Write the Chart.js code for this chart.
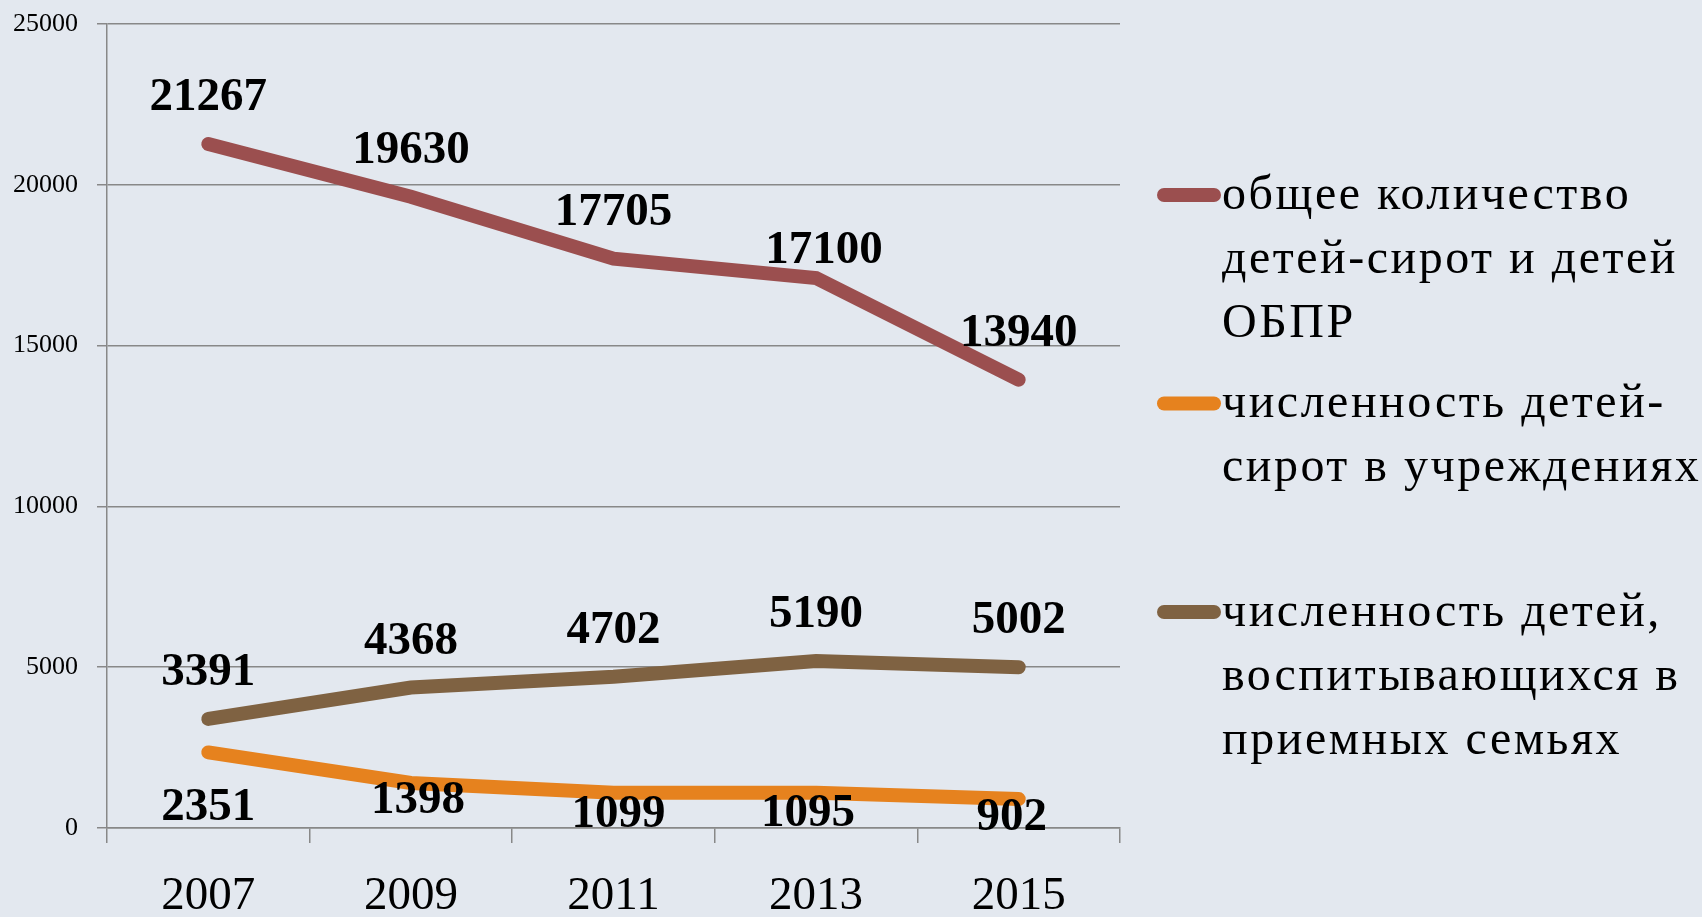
<!DOCTYPE html>
<html>
<head>
<meta charset="utf-8">
<script src="https://cdn.jsdelivr.net/npm/chart.js@4.4.1/dist/chart.umd.min.js"></script>
<style>
  html, body { margin: 0; padding: 0; background: #E3E8EF; overflow: hidden; }
  canvas { display: block; }
</style>
</head>
<body>
<canvas id="chart" width="1702" height="917"></canvas>
<script>
// данные
const years = ['2007', '2009', '2011', '2013', '2015'];
const totalOrphans = [21267, 19630, 17705, 17100, 13940];
const inInstitutions = [2351, 1398, 1099, 1095, 902];
const inFosterFamilies = [3391, 4368, 4702, 5190, 5002];

const legendLines = [
    ['общее количество', 'детей-сирот и детей', 'ОБПР'],
    ['численность детей-', 'сирот в учреждениях'],
    ['численность детей,', 'воспитывающихся в', 'приемных семьях']
];
const seriesColors = ['#9B4F4F', '#E6821E', '#7F6242'];

// сдвиги подписей значений относительно точки (px)
const labelShift = [
    [[0, -46], [0, -46], [0, -46], [8, -27], [0, -46]],
    [[0, 55], [7, 18], [5, 22], [-8, 21], [-7, 19]],
    [[0, -46], [0, -46], [0, -46], [0, -46], [0, -46]]
];

const FONT = "'Liberation Serif', 'Times New Roman', serif";

const valueLabels = {
    id: 'valueLabels',
    afterDatasetsDraw(chart) {
        const ctx = chart.ctx;
        ctx.save();
        ctx.font = `bold 47px ${FONT}`;
        ctx.fillStyle = '#000';
        ctx.textAlign = 'center';
        ctx.textBaseline = 'middle';
        chart.data.datasets.forEach((ds, i) => {
            chart.getDatasetMeta(i).data.forEach((pt, j) => {
                const [dx, dy] = labelShift[i][j];
                ctx.fillText(String(ds.data[j]), pt.x + dx, pt.y + dy);
            });
        });
        ctx.restore();
    }
};

const sideLegend = {
    id: 'sideLegend',
    afterDraw(chart) {
        const ctx = chart.ctx;
        const x0 = chart.chartArea.right + 44;
        const top = 195, slot = 208.5, lineH = 64;
        ctx.save();
        chart.data.datasets.forEach((ds, i) => {
            const y = top + i * slot;
            ctx.strokeStyle = ds.borderColor;
            ctx.lineWidth = 14;
            ctx.lineCap = 'round';
            ctx.beginPath();
            ctx.moveTo(x0, y);
            ctx.lineTo(x0 + 50, y);
            ctx.stroke();
            ctx.font = `48px ${FONT}`;
            ctx.letterSpacing = '2.5px';
            ctx.fillStyle = '#000';
            ctx.textAlign = 'left';
            ctx.textBaseline = 'middle';
            legendLines[i].forEach((t, k) => ctx.fillText(t, x0 + 58, y + 1 + k * lineH));
        });
        ctx.restore();
    }
};

function makeSet(label, data, color) {
    return {
        label,
        data,
        borderColor: color,
        backgroundColor: color,
        borderWidth: 14,
        borderCapStyle: 'round',
        borderJoinStyle: 'miter',
        pointRadius: 0,
        pointHoverRadius: 0,
        tension: 0,
        fill: false
    };
}

new Chart(document.getElementById('chart'), {
    type: 'line',
    data: {
        labels: years,
        datasets: [
            makeSet(legendLines[0].join(' '), totalOrphans, seriesColors[0]),
            makeSet(legendLines[1].join(''), inInstitutions, seriesColors[1]),
            makeSet(legendLines[2].join(' '), inFosterFamilies, seriesColors[2])
        ]
    },
    options: {
        responsive: false,
        animation: false,
        layout: { padding: { left: 0, right: 582, top: 24, bottom: 0 } },
        plugins: {
            legend: { display: false },
            tooltip: { enabled: false }
        },
        scales: {
            x: {
                offset: true,
                grid: { offset: true, drawOnChartArea: false, color: '#888', lineWidth: 1.5, tickLength: 15 },
                border: { color: '#888', width: 1.5 },
                ticks: { font: { family: FONT, size: 47, lineHeight: 1.2 }, color: '#000', padding: 25, maxRotation: 0 },
                afterFit(scale) { scale.height = 89; }
            },
            y: {
                min: 0,
                max: 25000,
                ticks: {
                    stepSize: 5000,
                    font: { family: FONT, size: 26 },
                    color: '#000',
                    padding: 19,
                    callback: v => String(v)
                },
                grid: { color: '#888', lineWidth: 1.5, tickLength: 10 },
                border: { color: '#888', width: 1.5 },
                afterFit(scale) {
                    scale.width = 107;
                    scale.paddingTop = 0;
                    scale.paddingBottom = 0;
                }
            }
        }
    },
    plugins: [valueLabels, sideLegend]
});
</script>
</body>
</html>
